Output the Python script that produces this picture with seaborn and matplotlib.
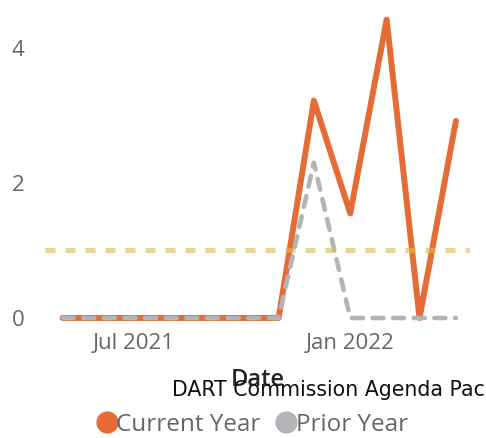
import matplotlib
matplotlib.use("Agg")
import matplotlib.pyplot as plt
import matplotlib.dates as mdates
from matplotlib.lines import Line2D
import seaborn as sns
import pandas as pd

months = ["2021-05-01", "2021-06-01", "2021-07-01", "2021-08-01", "2021-09-01",
          "2021-10-01", "2021-11-01", "2021-12-01", "2022-01-01", "2022-02-01",
          "2022-03-01", "2022-04-01"]
current_year = [0, 0, 0, 0, 0, 0, 0, 3.22, 1.55, 4.42, 0, 2.92]
prior_year = [0, 0, 0, 0, 0, 0, 0, 2.3, 0, 0, 0, 0]
target = 1.0
y_ticks = [0, 2, 4]
x_ticks = ["2021-07-01", "2022-01-01"]

ORANGE = "#E66C37"
GRAY = "#B3B4B8"
GOLD = "#DDBB4A"
TEXT = "#666666"

df = pd.DataFrame({"Date": pd.to_datetime(months),
                   "Current Year": current_year,
                   "Prior Year": prior_year})

sns.set_theme(style="white")
plt.rcParams["font.family"] = ["Open Sans", "DejaVu Sans"]

fig = plt.figure(figsize=(4.86, 4.38), dpi=100)
ax = fig.add_axes([45/486, 1-325/438, 425/486, 315/438])

sns.lineplot(data=df, x="Date", y="Current Year", ax=ax, color=ORANGE,
             linewidth=4.3, solid_joinstyle="round", solid_capstyle="round")
sns.lineplot(data=df, x="Date", y="Prior Year", ax=ax, color=GRAY,
             linewidth=3.3, linestyle=(0, (2.4, 2.1)), dash_capstyle="round",
             dash_joinstyle="round")
ax.axhline(target, color=GOLD, alpha=0.6, linewidth=3.6,
           linestyle=(0, (2, 2)), dash_capstyle="butt", zorder=5)

ax.set_xlim(pd.Timestamp("2021-04-16"), pd.Timestamp("2022-04-13"))
ax.set_ylim(-0.104, 4.563)
ax.set_yticks(y_ticks)
ax.set_xticks(pd.to_datetime(x_ticks))
ax.xaxis.set_major_formatter(mdates.DateFormatter("%b %Y"))
ax.tick_params(axis="both", length=0, labelsize=16, colors=TEXT)
ax.tick_params(axis="y", pad=15)
ax.tick_params(axis="x", pad=6)
for s in ax.spines.values():
    s.set_visible(False)
ax.set_ylabel("")
ax.set_xlabel("Date", fontsize=17, fontweight="semibold", color="#252423",
              labelpad=10)

fig.text(172/486, 1-390/438, "DART Commission Agenda Packet", fontsize=14.8,
         color="#111111", va="center", ha="left", family=["DejaVu Sans"])

handles = [Line2D([], [], marker="o", linestyle="none", markersize=15,
                  color=ORANGE),
           Line2D([], [], marker="o", linestyle="none", markersize=15,
                  color=GRAY)]
fig.legend(handles, ["Current Year", "Prior Year"], loc="center left",
           bbox_to_anchor=(92/486, 1-425/438), ncol=2, frameon=False,
           fontsize=17.5, labelcolor=TEXT, handletextpad=-0.2,
           columnspacing=0.45, handlelength=1.2, borderaxespad=0,
           borderpad=0)

fig.savefig("out.png", dpi=100)
